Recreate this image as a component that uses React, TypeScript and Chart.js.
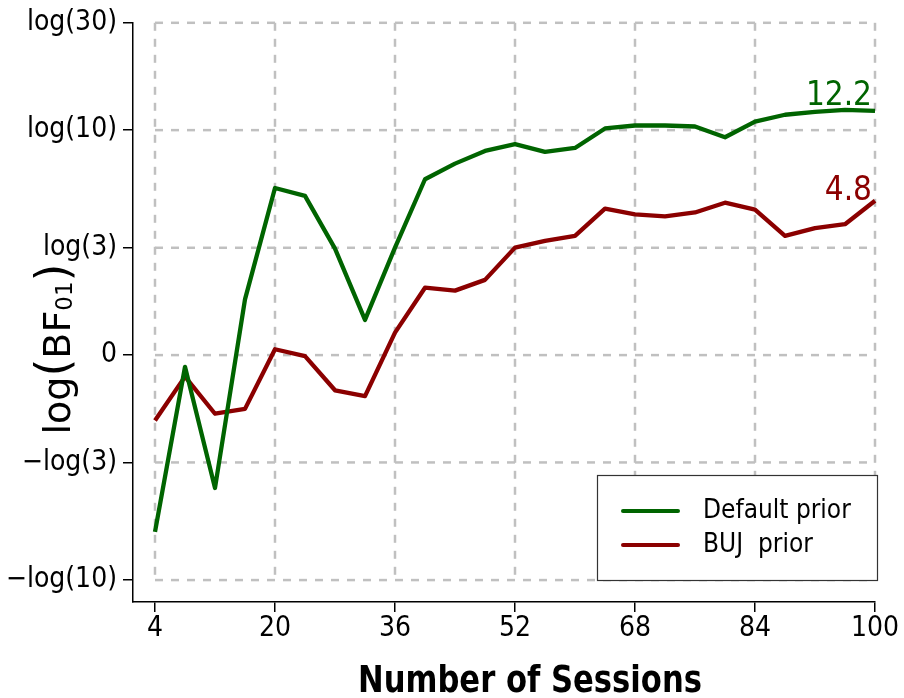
import React, { useEffect, useRef } from 'react';
import { Chart, registerables } from 'chart.js';

Chart.register(...registerables);

// ---- data ----
const sessions = [4, 8, 12, 16, 20, 24, 28, 32, 36, 40, 44, 48, 52, 56, 60, 64, 68, 72, 76, 80, 84, 88, 92, 96, 100];
const defaultPrior = [-1.81, -0.12, -1.36, 0.57, 1.71, 1.63, 1.09, 0.36, 1.10, 1.80, 1.96, 2.09, 2.16, 2.08, 2.12, 2.32, 2.35, 2.35, 2.34, 2.23, 2.39, 2.46, 2.49, 2.51, 2.50];
const bujPrior = [-0.67, -0.22, -0.60, -0.55, 0.06, -0.01, -0.36, -0.42, 0.23, 0.69, 0.66, 0.77, 1.10, 1.17, 1.22, 1.50, 1.44, 1.42, 1.46, 1.56, 1.49, 1.22, 1.30, 1.34, 1.58];
const seriesLabels = ['Default prior', 'BUJ  prior'];
const endLabels = ['12.2', '4.8'];
const xTickValues = [4, 20, 36, 52, 68, 84, 100];
const yTickValues = [-Math.log(10), -Math.log(3), 0, Math.log(3), Math.log(10), Math.log(30)];
const yTickLabels = ['\u2212log(10)', '\u2212log(3)', '0', 'log(3)', 'log(10)', 'log(30)'];
const xTitle = 'Number of Sessions';

const GREEN = '#006400';
const RED = '#8b0000';
const FONT = "'DejaVu Sans', 'Liberation Sans', sans-serif";
const CFONT = "'DejaVu Sans Condensed', 'DejaVu Sans', sans-serif";

const gridPlugin = {
  id: 'dashedGrid',
  beforeDatasetsDraw(chart: any) {
    const { ctx, scales } = chart;
    const x = scales.x, y = scales.y;
    const x0 = x.getPixelForValue(xTickValues[0]);
    const x1 = x.getPixelForValue(xTickValues[xTickValues.length - 1]);
    const y0 = y.getPixelForValue(yTickValues[0]);
    const y1 = y.getPixelForValue(yTickValues[yTickValues.length - 1]);
    ctx.save();
    ctx.strokeStyle = '#c0c0c0';
    ctx.lineWidth = 2.5;
    ctx.setLineDash([8, 8]);
    for (const v of yTickValues) {
      const py = y.getPixelForValue(v);
      ctx.beginPath();
      ctx.moveTo(x0, py);
      ctx.lineTo(x1, py);
      ctx.stroke();
    }
    for (const v of xTickValues) {
      const px = x.getPixelForValue(v);
      ctx.beginPath();
      ctx.moveTo(px, y1);
      ctx.lineTo(px, y0);
      ctx.stroke();
    }
    ctx.restore();
  },
};

const overlayPlugin = {
  id: 'overlay',
  afterDatasetsDraw(chart: any) {
    const { ctx, scales } = chart;
    const x = scales.x, y = scales.y;
    ctx.save();
    // end-value annotations
    const lastIdx = sessions.length - 1;
    const px = x.getPixelForValue(sessions[lastIdx]);
    const ends = [defaultPrior[lastIdx], bujPrior[lastIdx]];
    const colors = [GREEN, RED];
    const offs = [6, 1];
    ctx.font = `33px ${CFONT}`;
    ctx.textAlign = 'right';
    ctx.textBaseline = 'alphabetic';
    ends.forEach((v, i) => {
      ctx.fillStyle = colors[i];
      ctx.fillText(endLabels[i], px - 3, y.getPixelForValue(v) - offs[i]);
    });
    // legend box
    const bx = 597, by = 475, bw = 280, bh = 105;
    ctx.fillStyle = '#ffffff';
    ctx.fillRect(bx, by, bw, bh);
    ctx.strokeStyle = '#333333';
    ctx.lineWidth = 1.2;
    ctx.strokeRect(bx + 0.5, by + 0.5, bw, bh);
    const rows = [511, 545];
    ctx.lineCap = 'round';
    ctx.font = `26px ${CFONT}`;
    ctx.textAlign = 'left';
    ctx.textBaseline = 'middle';
    seriesLabels.forEach((lab, i) => {
      ctx.strokeStyle = colors[i];
      ctx.lineWidth = 4;
      ctx.beginPath();
      ctx.moveTo(623, rows[i]);
      ctx.lineTo(678, rows[i]);
      ctx.stroke();
      ctx.fillStyle = '#000';
      ctx.fillText(lab, 703, rows[i]);
    });
    ctx.restore();
  },
  afterDraw(chart: any) {
    const { ctx } = chart;
    // x-axis title (slightly tall, as in the reference)
    ctx.save();
    ctx.font = `bold 31px ${FONT}`;
    const tw = ctx.measureText(xTitle).width;
    ctx.translate(530, 692);
    ctx.scale(344 / tw, 27 / (0.729 * 31));
    ctx.fillStyle = '#000';
    ctx.textAlign = 'center';
    ctx.textBaseline = 'alphabetic';
    ctx.fillText(xTitle, 0, 0);
    ctx.restore();

    // y-axis title: log(BF_01) with large parentheses and subscript
    ctx.save();
    ctx.translate(70, 349);
    ctx.rotate(-Math.PI / 2);
    ctx.fillStyle = '#000';
    ctx.textBaseline = 'alphabetic';
    ctx.textAlign = 'left';
    const parts = [
      { t: 'log', f: `38px ${FONT}`, dy: 0 },
      { t: '(', f: `46px ${FONT}`, dy: -2 },
      { t: 'BF', f: `38px ${FONT}`, dy: 0 },
      { t: '01', f: `23px ${FONT}`, dy: 2 },
      { t: ')', f: `46px ${FONT}`, dy: -2 },
    ];
    let total = 0;
    const widths = parts.map((p) => {
      ctx.font = p.f;
      const w = ctx.measureText(p.t).width;
      total += w;
      return w;
    });
    let u = -total / 2;
    parts.forEach((p, i) => {
      ctx.font = p.f;
      ctx.fillText(p.t, u, p.dy);
      u += widths[i];
    });
    ctx.restore();
  },
};

export default function App() {
  const ref = useRef<HTMLCanvasElement | null>(null);
  useEffect(() => {
    document.body.style.margin = '0';
    const canvas = ref.current;
    if (!canvas) return;
    const chart = new Chart(canvas, {
      type: 'line',
      data: {
        datasets: [
          {
            label: seriesLabels[0],
            data: sessions.map((s, i) => ({ x: s, y: defaultPrior[i] })),
            borderColor: GREEN,
            backgroundColor: GREEN,
            borderWidth: 4.3,
            pointRadius: 0,
            tension: 0,
            fill: false,
            borderJoinStyle: 'round',
            borderCapStyle: 'butt',
            clip: false,
          },
          {
            label: seriesLabels[1],
            data: sessions.map((s, i) => ({ x: s, y: bujPrior[i] })),
            borderColor: RED,
            backgroundColor: RED,
            borderWidth: 4.3,
            pointRadius: 0,
            tension: 0,
            fill: false,
            borderJoinStyle: 'round',
            borderCapStyle: 'butt',
            clip: false,
          },
        ],
      },
      options: {
        responsive: false,
        animation: false,
        devicePixelRatio: 1,
        layout: { padding: { top: 20, right: 29, left: 0, bottom: 0 } },
        plugins: {
          legend: { display: false },
          tooltip: { enabled: false },
        },
        scales: {
          x: {
            type: 'linear',
            min: 1.067,
            max: 100,
            afterBuildTicks: (s: any) => {
              s.ticks = xTickValues.map((v) => ({ value: v }));
            },
            afterFit: (s: any) => {
              s.height = 96;
            },
            ticks: {
              autoSkip: false,
              maxRotation: 0,
              padding: 0,
              color: '#000',
              font: { family: CFONT, size: 28 },
              callback: (v: any) => String(v),
            },
            grid: {
              display: true,
              drawOnChartArea: false,
              drawTicks: true,
              tickLength: 10,
              color: '#000',
              lineWidth: 1.5,
            },
            border: { display: true, color: '#000', width: 1.5 },
            title: { display: false },
          },
          y: {
            type: 'linear',
            min: -2.527,
            max: Math.log(30),
            afterBuildTicks: (s: any) => {
              s.ticks = yTickValues.map((v) => ({ value: v }));
            },
            afterFit: (s: any) => {
              s.width = 133;
            },
            ticks: {
              autoSkip: false,
              padding: 6,
              color: '#000',
              font: { family: CFONT, size: 28 },
              callback: (_v: any, i: number) => yTickLabels[i],
            },
            grid: {
              display: true,
              drawOnChartArea: false,
              drawTicks: true,
              tickLength: 10,
              color: '#000',
              lineWidth: 1.5,
            },
            border: { display: true, color: '#000', width: 1.5 },
          },
        },
      } as any,
      plugins: [gridPlugin, overlayPlugin],
    });
    return () => chart.destroy();
  }, []);
  return (
    <div style={{ width: 904, height: 698, background: '#fff' }}>
      <canvas ref={ref} width={904} height={698} style={{ display: 'block' }} />
    </div>
  );
}
